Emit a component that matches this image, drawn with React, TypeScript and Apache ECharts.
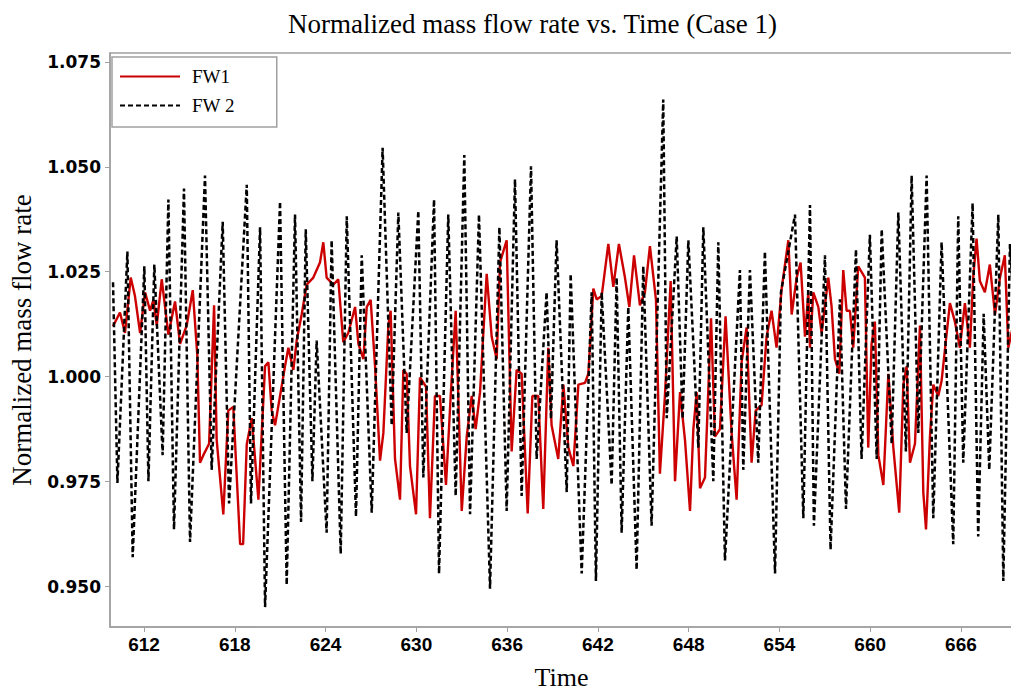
import React, { useEffect, useRef } from "react";
import * as echarts from "echarts";

const chartTitle = "Normalized mass flow rate vs. Time (Case 1)";
const xName = "Time";
const yName = "Normalized mass flow rate";
const seriesNames = ["FW1", "FW 2"];

const xTicks = [612, 618, 624, 630, 636, 642, 648, 654, 660, 666];
const yTicks = [0.95, 0.975, 1.0, 1.025, 1.05, 1.075];

const fw1Time = [
  609.95, 610.41, 610.74, 611.12, 611.4, 611.74, 612.07, 612.4, 612.62, 612.84,
  613.17, 613.61, 614.05, 614.38, 614.82, 615.22, 615.52, 615.7, 615.92, 616.3,
  616.63, 616.8, 617.24, 617.57, 617.9, 618.35, 618.55, 618.79, 619.12, 619.56,
  620.0, 620.22, 620.44, 620.66, 620.99, 621.32, 621.54, 621.87, 622.09, 622.42,
  622.75, 623.19, 623.63, 623.85, 624.07, 624.51, 624.84, 625.17, 625.5, 625.95,
  626.17, 626.5, 626.72, 626.98, 627.27, 627.6, 627.82, 628.15, 628.3, 628.59,
  628.92, 629.14, 629.36, 629.58, 629.98, 630.24, 630.64, 630.9, 631.23, 631.56,
  631.96, 632.27, 632.6, 633.0, 633.33, 633.66, 633.92, 634.21, 634.65, 634.98,
  635.31, 635.53, 635.97, 636.3, 636.63, 636.96, 637.36, 637.67, 638.06, 638.39,
  638.72, 638.94, 639.38, 639.72, 640.05, 640.38, 640.71, 641.15, 641.37, 641.7,
  641.92, 642.25, 642.69, 643.02, 643.39, 643.79, 644.08, 644.39, 644.78, 645.11,
  645.44, 645.84, 646.1, 646.43, 646.81, 647.1, 647.43, 647.76, 648.09, 648.31,
  648.53, 648.75, 649.08, 649.48, 649.74, 650.07, 650.44, 650.84, 651.17, 651.5,
  651.83, 652.16, 652.43, 652.82, 653.15, 653.48, 653.81, 654.15, 654.59, 654.81,
  655.14, 655.4, 655.69, 655.91, 656.02, 656.24, 656.57, 656.79, 657.23, 657.45,
  657.67, 657.96, 658.22, 658.44, 658.66, 658.88, 659.21, 659.65, 659.87, 660.09,
  660.31, 660.54, 660.87, 661.2, 661.53, 661.92, 662.19, 662.41, 662.63, 662.96,
  663.29, 663.51, 663.69, 663.95, 664.17, 664.5, 664.72, 665.27, 665.6, 665.93,
  666.26, 666.59, 666.81, 667.03, 667.25, 667.58, 667.91, 668.25, 668.58, 668.9,
  669.13, 669.44,
];
const fw1Value = [
  1.012, 1.0153, 1.0104, 1.0236, 1.0192, 1.0104, 1.0201, 1.0157, 1.0183, 1.0122,
  1.0232, 1.01, 1.0179, 1.0078, 1.0122, 1.0206, 1.0051, 0.9795, 0.9813, 0.984,
  1.017, 0.985, 0.9672, 0.9919, 0.9928, 0.9601, 0.9601, 0.9839, 0.9901, 0.9707,
  1.0025, 1.0034, 0.9919, 0.9884, 0.9954, 1.0025, 1.0069, 1.0016, 1.0086, 1.0148,
  1.0219, 1.0236, 1.0272, 1.032, 1.0236, 1.0219, 1.0232, 1.0082, 1.0104, 1.0166,
  1.0078, 1.0042, 1.0166, 1.0183, 1.0025, 0.98, 0.9866, 1.0122, 1.0157, 0.9804,
  0.9707, 1.0016, 1.0007, 0.9787, 0.9672, 0.9998, 0.9976, 0.9663, 0.9954, 0.9954,
  0.9742, 0.9954, 1.0157, 0.968, 0.9857, 0.9954, 0.9875, 0.9963, 1.0245, 1.0095,
  1.0042, 1.0272, 1.0325, 0.9822, 1.0016, 1.0007, 0.9674, 0.9954, 0.9954, 0.9685,
  1.0069, 0.9884, 0.9804, 0.9981, 0.9831, 0.9787, 0.9981, 0.9985, 1.0007, 1.021,
  1.0184, 1.0192, 1.0316, 1.0214, 1.0316, 1.0236, 1.0166, 1.0289, 1.017, 1.0201,
  1.0311, 1.0183, 0.9769, 0.9954, 1.0228, 0.9751, 0.9963, 0.9848, 0.968, 0.9875,
  0.9963, 0.9734, 0.976, 1.0139, 0.9857, 0.9875, 1.0144, 0.9866, 0.9707, 1.0034,
  1.0117, 0.9795, 0.9919, 0.9932, 1.0095, 1.0157, 1.0069, 1.021, 1.0325, 1.0148,
  1.0236, 1.0272, 1.0095, 1.0201, 1.0069, 1.0201, 1.0166, 1.0104, 1.0236, 1.0166,
  1.0042, 1.0007, 1.0254, 1.0157, 1.0157, 1.0069, 1.0263, 1.0236, 0.9831, 1.0078,
  1.0131, 0.9813, 0.9742, 1.0007, 0.9831, 0.9676, 0.9981, 1.0025, 0.9795, 0.984,
  1.0122, 0.9725, 0.9636, 0.9857, 0.9981, 0.9954, 0.999, 1.0175, 1.0131, 1.0069,
  1.0175, 1.0069, 1.0236, 1.0329, 1.0228, 1.0201, 1.0267, 1.0148, 1.0236, 1.0289,
  1.0069, 1.012,
];

const fw2Time = [
  609.95, 610.24, 610.9, 611.25, 612.02, 612.29, 612.68, 613.23, 613.61, 613.98,
  614.64, 615.04, 616.03, 616.47, 617.2, 617.62, 618.79, 619.07, 619.67, 620.0,
  620.99, 621.43, 621.98, 622.38, 622.69, 623.13, 623.41, 624.07, 624.4, 625.0,
  625.4, 626.01, 626.39, 627.05, 627.77, 628.37, 628.81, 629.36, 630.13, 630.46,
  631.17, 631.5, 632.11, 632.6, 633.17, 633.55, 634.14, 634.87, 635.49, 635.97,
  636.52, 636.96, 637.58, 637.95, 638.61, 638.9, 639.27, 639.94, 640.2, 640.93,
  641.59, 641.87, 642.25, 642.91, 643.24, 643.57, 644.01, 644.56, 645.0, 645.55,
  646.32, 646.55, 647.21, 647.6, 647.98, 648.64, 648.97, 649.63, 649.96, 650.4,
  651.39, 651.61, 652.05, 652.6, 653.04, 653.71, 654.1, 655.03, 655.58, 656.02,
  656.28, 657.01, 657.38, 658.0, 658.4, 659.06, 659.43, 659.98, 660.43, 660.76,
  661.42, 661.86, 662.36, 662.74, 663.18, 663.73, 664.17, 664.72, 665.49, 665.82,
  666.15, 666.77, 667.14, 667.5, 667.87, 668.47, 668.8, 669.24, 669.44,
];
const fw2Value = [
  1.0225, 0.9747, 1.0298, 0.957, 1.0263, 0.9751, 1.0267, 0.9813, 1.0422, 0.9636,
  1.0448, 0.9606, 1.0479, 0.9778, 1.0369, 0.9698, 1.0457, 0.9698, 1.0356, 0.9451,
  1.0417, 0.9504, 1.0386, 0.9654, 1.0351, 0.9751, 1.0086, 0.9628, 1.0325, 0.9578,
  1.0382, 0.9667, 1.0289, 0.9676, 1.0545, 0.9884, 1.0391, 0.9866, 1.0395, 0.976,
  1.0422, 0.9531, 1.0386, 0.9716, 1.0528, 0.9672, 1.0386, 0.9495, 1.0356, 0.968,
  1.047, 0.9716, 1.0501, 0.9804, 1.0201, 0.99, 1.0325, 0.9725, 1.0245, 0.9531,
  1.0201, 0.9513, 1.0201, 0.9742, 1.0236, 0.9628, 1.0166, 0.954, 1.0263, 0.9645,
  1.066, 0.9901, 1.0334, 0.99, 1.0325, 0.9831, 1.0356, 0.9751, 1.032, 0.9562,
  1.0254, 0.9778, 1.0254, 0.9795, 1.0298, 0.9531, 1.0201, 1.0386, 0.9663, 1.0409,
  0.9645, 1.0289, 0.9588, 1.0184, 0.9685, 1.0303, 0.9804, 1.0338, 0.9804, 1.0351,
  0.984, 1.0391, 0.9822, 1.0479, 0.9866, 1.0479, 0.9663, 1.032, 0.9601, 1.0382,
  0.9795, 1.0413, 0.9619, 1.015, 0.9778, 1.0386, 0.9513, 1.0316, 1.02,
];

const serif = "Liberation Serif";
const ySans = "DejaVu Sans";
const xSans = "Liberation Sans";
const gray = "#a0a0a0";

export default function App() {
  const ref = useRef<HTMLDivElement>(null);
  useEffect(() => {
    if (!ref.current) return;
    const chart = echarts.init(ref.current, null, { renderer: "svg" });
    const fw1 = fw1Time.map((t, i) => [t, fw1Value[i]]);
    const fw2 = fw2Time.map((t, i) => [t, fw2Value[i]]);
    chart.setOption({
      animation: false,
      backgroundColor: "#ffffff",
      title: {
        text: chartTitle,
        left: 283,
        top: 5,
        textStyle: { fontFamily: serif, fontSize: 27, fontWeight: "normal", color: "#000" },
      },
      legend: {
        orient: "vertical",
        left: 112,
        top: 57,
        padding: [10, 42, 12, 7],
        itemWidth: 60,
        itemHeight: 14,
        itemGap: 10,
        backgroundColor: "#ffffff",
        borderColor: gray,
        borderWidth: 1.5,
        itemStyle: { opacity: 0 },
        textStyle: { fontFamily: serif, fontSize: 19, color: "#000", padding: [0, 0, 0, 7] },
        data: seriesNames,
      },
      grid: {
        left: 110,
        right: -2,
        top: 53,
        bottom: 64,
        show: true,
        borderColor: gray,
        borderWidth: 1.5,
        containLabel: false,
        outerBoundsMode: "none",
      },
      xAxis: {
        type: "value",
        min: 609.75,
        max: 669.44,
        name: xName,
        nameLocation: "middle",
        nameGap: 50,
        nameTextStyle: { fontFamily: serif, fontSize: 26, color: "#000", verticalAlign: "middle" },
        axisLine: { show: true, lineStyle: { color: gray, width: 1.5 } },
        axisTick: { show: true, length: 5, lineStyle: { color: gray }, customValues: xTicks },
        axisLabel: {
          customValues: xTicks,
          margin: 8,
          fontFamily: xSans,
          fontWeight: "bold",
          fontSize: 19,
          color: "#000",
        },
        splitLine: { show: false },
      },
      yAxis: {
        type: "value",
        min: 0.94036,
        max: 1.0771,
        name: yName,
        nameLocation: "middle",
        nameGap: 88,
        nameRotate: 90,
        nameTextStyle: { fontFamily: serif, fontSize: 27, color: "#000", verticalAlign: "middle" },
        axisLine: { show: true, lineStyle: { color: gray, width: 1.5 } },
        axisTick: { show: true, length: 5, lineStyle: { color: gray }, customValues: yTicks },
        axisLabel: {
          customValues: yTicks,
          margin: 9,
          fontFamily: ySans,
          fontWeight: "bold",
          fontSize: 17,
          color: "#000",
          formatter: (v: number) => v.toFixed(3),
        },
        splitLine: { show: false },
      },
      series: [
        {
          name: seriesNames[0],
          type: "line",
          data: fw1,
          symbol: "none",
          showSymbol: false,
          lineStyle: { color: "#cc0000", width: 2.4 },
          itemStyle: { color: "#cc0000" },
          z: 2,
        },
        {
          name: seriesNames[1],
          type: "line",
          data: fw2,
          symbol: "none",
          showSymbol: false,
          lineStyle: { color: "#000000", width: 2.5, type: [5, 3] },
          itemStyle: { color: "#000000" },
          z: 3,
        },
      ],
    });
    return () => chart.dispose();
  }, []);
  return (
    <div
      ref={ref}
      style={{ position: "absolute", left: 0, top: 0, width: 1011, height: 691, background: "#fff" }}
    />
  );
}
